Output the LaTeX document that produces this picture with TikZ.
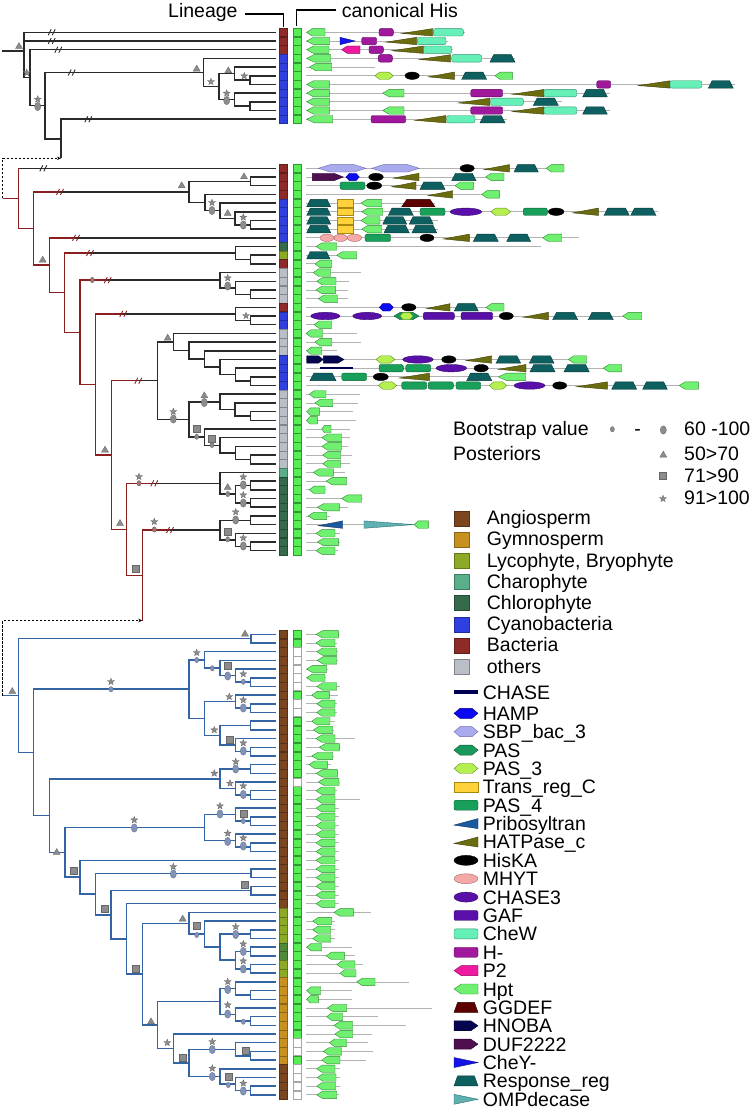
\documentclass[tikz,border=0pt]{standalone}
\usepackage{fontspec}
\setmainfont{Liberation Sans}
\usetikzlibrary{arrows.meta, calc}

\definecolor{treeK}{HTML}{2A2A2A}
\definecolor{treeR}{HTML}{8B1E1E}
\definecolor{treeB}{HTML}{3464A4}
\definecolor{cAng}{HTML}{7B4520}
\definecolor{cGym}{HTML}{C8901E}
\definecolor{cLyc}{HTML}{8DAA26}
\definecolor{cCha}{HTML}{5BAE8A}
\definecolor{cChl}{HTML}{356A4C}
\definecolor{cCya}{HTML}{3040E0}
\definecolor{cBac}{HTML}{8E2B28}
\definecolor{cOth}{HTML}{B9BEC7}
\definecolor{cMid}{HTML}{4E8A3A}
\definecolor{hisG}{HTML}{55EE55}
\definecolor{hisGd}{HTML}{2E9A2E}
\definecolor{mkG}{HTML}{8C8C8C}
\definecolor{mkGd}{HTML}{666666}
\definecolor{mkB}{HTML}{8393B5}
\definecolor{mkBd}{HTML}{5E6E92}
\definecolor{mkR}{HTML}{A07878}
\definecolor{mkRd}{HTML}{7A4A4A}
% domain colours
\definecolor{dHpt}{HTML}{70F070}\definecolor{dHptD}{HTML}{2E8B2E}
\definecolor{dHatp}{HTML}{6B6B10}\definecolor{dHatpD}{HTML}{3E3E06}
\definecolor{dChew}{HTML}{66F0B8}\definecolor{dChewD}{HTML}{2E9070}
\definecolor{dHm}{HTML}{A0189C}\definecolor{dHmD}{HTML}{5E0060}
\definecolor{dRr}{HTML}{0E6060}\definecolor{dRrD}{HTML}{063838}
\definecolor{dChey}{HTML}{1414E6}\definecolor{dCheyD}{HTML}{0A0A90}
\definecolor{dPtwo}{HTML}{F01AA0}\definecolor{dPtwoD}{HTML}{900060}
\definecolor{dPasT}{HTML}{B4F050}\definecolor{dPasTD}{HTML}{609020}
\definecolor{dSbp}{HTML}{AAAAEE}\definecolor{dSbpD}{HTML}{6A6AB0}
\definecolor{dDuf}{HTML}{4E0E50}\definecolor{dDufD}{HTML}{2A0030}
\definecolor{dHamp}{HTML}{0A0AF0}\definecolor{dHampD}{HTML}{00008A}
\definecolor{dPasF}{HTML}{18A05A}\definecolor{dPasFD}{HTML}{0C6034}
\definecolor{dTrc}{HTML}{FFD23C}\definecolor{dTrcD}{HTML}{A88810}
\definecolor{dGg}{HTML}{5C0000}\definecolor{dGgD}{HTML}{300000}
\definecolor{dMhyt}{HTML}{F4A8A8}\definecolor{dMhytD}{HTML}{A86868}
\definecolor{dChT}{HTML}{5A10A8}\definecolor{dChTD}{HTML}{30086A}
\definecolor{dHnoba}{HTML}{06064E}\definecolor{dHnobaD}{HTML}{000030}
\definecolor{dPas}{HTML}{18985A}\definecolor{dPasD}{HTML}{0C5A34}
\definecolor{dPrt}{HTML}{1C5AA0}\definecolor{dPrtD}{HTML}{0C3060}
\definecolor{dOmp}{HTML}{5FB0B0}\definecolor{dOmpD}{HTML}{2A7070}
\definecolor{dChase}{HTML}{000050}

% y of leaf row n
\pgfmathdeclarefunction{ry}{1}{\begingroup
  \pgfmathparse{ifthenelse(#1<12,32.3+8.69*(#1-1),ifthenelse(#1<57,168.3+8.69*(#1-12),634.3+8.69*(#1-57)))}%
  \pgfmathsmuggle\pgfmathresult\endgroup}

% clade: [style]{name}{x}{child1}{child2}
\newcommand\cl[5][kline]{%
  \path let \p1=(#4), \p2=(#5) in coordinate (#2) at ({(#3)*1pt},{0.5*\y1+0.5*\y2});
  \draw[#1] (#4) -| (#2) |- (#5);}
\newcommand\brk[3][kline]{\draw[#1,line width=0.9pt] let \p1=(#3) in ({(#2)*1pt},\y1) ++(-3.5,3) -- ++(3,-6) ++(1,6) -- ++(3,-6);}
\newcommand\ovl[3][kline]{\draw[#1] let \p1=(#3) in ({(#2)*1pt},\y1) -- (#3);}

% markers
\newcommand\mtri[2]{\filldraw[mk] ({#1-3.5},{#2+2.8}) -- (#1,{#2-3.2}) -- ({#1+3.5},{#2+2.8}) -- cycle;}
\newcommand\msq[2]{\filldraw[mk] ({#1-3.4},{#2-3.4}) rectangle ({#1+3.4},{#2+3.4});}
\newcommand\mstar[2]{\filldraw[mk] (#1,#2) +(-90:3.6) -- +(-54:1.5) -- +(-18:3.6) -- +(18:1.5) -- +(54:3.6) -- +(90:1.5) -- +(126:3.6) -- +(162:1.5) -- +(198:3.6) -- +(234:1.5) -- cycle;}
\newcommand\mell[3][mk]{\filldraw[#1] (#2,#3) ellipse [x radius=3.1, y radius=4.2];}
\newcommand\msell[3][mk]{\filldraw[#1] (#2,#3) ellipse [x radius=2.1, y radius=2.7];}

% domain shapes, on row \yy with half height \hh
\newcommand\drow[3]{\pgfmathsetmacro\yy{ry(#1)}\draw[gline] (#2,\yy) -- (#3,\yy);}
\newcommand\shPenL[3]{\filldraw[#1] (#2,\yy) -- ({#2+0.3*(#3-#2)},{\yy-\hh}) -- (#3,{\yy-\hh}) -- (#3,{\yy+\hh}) -- ({#2+0.3*(#3-#2)},{\yy+\hh}) -- cycle;}
\newcommand\shPenR[3]{\filldraw[#1] (#3,\yy) -- ({#3-0.3*(#3-#2)},{\yy-\hh}) -- (#2,{\yy-\hh}) -- (#2,{\yy+\hh}) -- ({#3-0.3*(#3-#2)},{\yy+\hh}) -- cycle;}
\newcommand\shHex[3]{\filldraw[#1] (#2,\yy) -- ({#2+0.25*(#3-#2)},{\yy-\hh}) -- ({#3-0.25*(#3-#2)},{\yy-\hh}) -- (#3,\yy) -- ({#3-0.25*(#3-#2)},{\yy+\hh}) -- ({#2+0.25*(#3-#2)},{\yy+\hh}) -- cycle;}
\newcommand\shTrap[3]{\filldraw[#1] (#2,{\yy+\hh}) -- ({#2+0.15*(#3-#2)},{\yy-\hh}) -- ({#3-0.15*(#3-#2)},{\yy-\hh}) -- (#3,{\yy+\hh}) -- cycle;}
\newcommand\shTriL[3]{\filldraw[#1] (#2,{\yy+0.3*\hh}) -- (#3,{\yy-\hh}) -- (#3,{\yy+\hh}) -- cycle;}
\newcommand\shTriR[3]{\filldraw[#1] (#3,\yy) -- (#2,{\yy-\hh}) -- (#2,{\yy+\hh}) -- cycle;}
\newcommand\shRnd[3]{\filldraw[#1,rounded corners=2pt] (#2,{\yy-\hh}) rectangle (#3,{\yy+\hh});}
\newcommand\shEll[3]{\filldraw[#1] ({(#2+#3)/2},\yy) ellipse [x radius={(#3-#2)/2}, y radius=\hh];}
\newcommand\shRect[3]{\filldraw[#1] (#2,{\yy-\hh}) rectangle (#3,{\yy+\hh});}

\newcommand\Hpt[2]{\shPenL{dm={dHpt}{dHptD}}{#1}{#2}}
\newcommand\HATP[2]{\shTriL{dm={dHatp}{dHatpD}}{#1}{#2}}
\newcommand\CheW[2]{\shRnd{dm={dChew}{dChewD}}{#1}{#2}}
\newcommand\Hm[2]{\shRnd{dm={dHm}{dHmD}}{#1}{#2}}
\newcommand\RR[2]{\shTrap{dm={dRr}{dRrD}}{#1}{#2}}
\newcommand\CheY[2]{\shTriR{dm={dChey}{dCheyD}}{#1}{#2}}
\newcommand\Ptwo[2]{\shPenL{dm={dPtwo}{dPtwoD}}{#1}{#2}}
\newcommand\PASiii[2]{\shHex{dm={dPasT}{dPasTD}}{#1}{#2}}
\newcommand\HisKA[2]{\shEll{dm={black}{black}}{#1}{#2}}
\newcommand\SBP[2]{\shHex{dm={dSbp}{dSbpD}}{#1}{#2}}
\newcommand\DUF[2]{\shPenR{dm={dDuf}{dDufD}}{#1}{#2}}
\newcommand\HAMP[2]{\shHex{dm={dHamp}{dHampD}}{#1}{#2}}
\newcommand\PASiv[2]{\shRnd{dm={dPasF}{dPasFD}}{#1}{#2}}
\newcommand\TRC[2]{\shRect{dm={dTrc}{dTrcD}}{#1}{#2}}
\newcommand\GGDEF[2]{\shTrap{dm={dGg}{dGgD}}{#1}{#2}}
\newcommand\MHYT[2]{\shEll{dm={dMhyt}{dMhytD}}{#1}{#2}}
\newcommand\CHiii[2]{\shEll{dm={dChT}{dChTD}}{#1}{#2}}
\newcommand\GAF[2]{\shRnd{dm={dChT}{dChTD}}{#1}{#2}}
\newcommand\CHASE[2]{\fill[dChase] (#1,{\yy-0.35*\hh}) rectangle (#2,{\yy+0.35*\hh});}
\newcommand\HNOBA[2]{\shPenR{dm={dHnoba}{dHnobaD}}{#1}{#2}}
\newcommand\PAS[2]{\shHex{dm={dPas}{dPasD}}{#1}{#2}}
\newcommand\PRT[2]{\shTriL{dm={dPrt}{dPrtD}}{#1}{#2}}
\newcommand\OMP[2]{\shTriR{dm={dOmp}{dOmpD}}{#1}{#2}}

\begin{document}
\begin{tikzpicture}[x=1pt, y=-1pt,
  kline/.style={draw=treeK, line width=1.5pt},
  rline/.style={draw=treeR, line width=1.5pt},
  bline/.style={draw=treeB, line width=1.5pt},
  dashln/.style={draw=black, line width=0.9pt, dash pattern=on 2.5pt off 1.5pt, -{Stealth[length=4pt,width=3.5pt]}},
  gline/.style={draw=gray!60, line width=0.8pt},
  hdr/.style={draw=black, line width=1.4pt},
  lin/.style={fill=#1, draw=#1!70!black, line width=0.3pt},
  hcol/.style={fill=hisG, draw=hisGd, line width=0.5pt},
  hnone/.style={fill=white, draw=gray!70, line width=0.5pt},
  mk/.style={fill=mkG, draw=mkGd, line width=0.3pt},
  mkb/.style={fill=mkB, draw=mkBd, line width=0.3pt},
  mkr/.style={fill=mkR, draw=mkRd, line width=0.3pt},
  dm/.style 2 args={fill=#1, draw=#2, line width=0.4pt},
  lgt/.style={font=\fontsize{19.5}{22}\selectfont, inner sep=0pt},
]
\useasboundingbox (0,0) rectangle (754,1109);

% headers
\node[lgt, anchor=base west] (hLin) at (168,17) {Lineage};
\node[lgt, anchor=base west] (hHis) at (341.7,17) {canonical His};
\draw[hdr] (245,14) -| (283.3,26.5);
\draw[hdr] (336,10) -| (296.7,25.5);

% leaf tips
\foreach \i in {1,...,110} \coordinate (r\i) at (276,{ry(\i)});

% ---- top clade
\cl{n1a}{250}{r6}{r7}
\cl{n1b}{234.3}{r5}{n1a}
\cl{n1c}{250}{r9}{r10}
\cl{n1d}{234.3}{r8}{n1c}
\cl{n1e}{219}{n1b}{n1d}
\cl{n1f}{203.3}{r4}{n1e}
\coordinate (d1) at (61,158.3);
\cl{n1g}{61}{r11}{d1}
\cl{n1h}{45}{n1f}{n1g}
\cl{n1i}{30}{r3}{n1h}
\coordinate (n1j) at (24,51);
\draw[kline] (r1) -| (n1j) |- (n1i);
\draw[kline] (r2) -- (r2 -| n1j);
\draw[kline] (1.7,51) -- (n1j);
\brk{51.7}{r1}\brk{51.7}{r2}\brk{58.3}{r3}\brk{71.7}{n1f}\brk{88.3}{r11}

% ---- middle clade
\cl{a1}{250.7}{r18}{r19}
\cl{a2}{235}{r17}{a1}
\cl{a3}{220}{r16}{a2}
\cl{a4}{205}{r15}{a3}
\cl{a5}{250.7}{r13}{r14}
\cl{a6}{189}{a5}{a4}
\cl{b1}{250.7}{r22}{r23}
\cl{b2}{235.7}{r21}{b1}
\cl{c1}{250.7}{r26}{r27}
\cl{c2}{235.7}{r25}{c1}
\cl{c3}{220}{r24}{c2}
\cl{dd1}{250.7}{r29}{r30}
\cl{dd2}{235.7}{r28}{dd1}
\cl{e1}{250.7}{r36}{r37}
\cl{e2}{235.7}{r35}{e1}
\cl{e3}{220}{r34}{e2}
\cl{e4}{204.3}{r33}{e3}
\cl{e5}{189}{r32}{e4}
\cl{e6}{173.3}{r31}{e5}
\cl{e7}{250.7}{r40}{r41}
\cl{e8}{235}{r39}{e7}
\cl{e9}{220}{r38}{e8}
\cl{e10}{250.7}{r45}{r46}
\cl{e11}{235.7}{r44}{e10}
\cl{e12}{220}{r43}{e11}
\cl{e13}{204.3}{r42}{e12}
\cl{e14}{189}{e9}{e13}
\cl{e15}{157.7}{e6}{e14}
\cl{f1}{250.7}{r48}{r49}
\cl{f2}{250.7}{r50}{r51}
\cl{f3}{235.7}{f1}{f2}
\cl{f4}{220}{r47}{f3}
\cl{g1}{250.7}{r52}{r53}
\cl{g2}{250.7}{r55}{r56}
\cl{g3}{235.7}{r54}{g2}
\cl{g4}{220}{g1}{g3}
\coordinate (d2) at (142.3,620.5);
\cl[rline]{R1}{142.3}{g4}{d2}
\cl[rline]{R2}{126.7}{f4}{R1}
\cl[rline]{R3}{111.7}{e15}{R2}
\cl[rline]{R4}{95.7}{dd2}{R3}
\cl[rline]{R5}{80}{c3}{R4}
\cl[rline]{R6}{64.3}{b2}{R5}
\cl[rline]{R7}{49.3}{r20}{R6}
\cl[rline]{R8}{33.3}{a6}{R7}
\cl[rline]{R9}{18.3}{r12}{R8}
\ovl{20}{r12}\ovl{60}{a6}\ovl{76}{r20}\ovl{90}{b2}\ovl{107.7}{c3}
\ovl{123.3}{dd2}\ovl{138.3}{e15}\ovl{154.3}{f4}\ovl{170}{g4}
\brk{43.3}{r12}
\foreach \bx/\bn in {60/a6, 76/r20, 90/b2, 107.7/c3, 123.3/dd2, 138.3/e15, 154.3/f4, 170/g4}
  {\brk[rline]{\bx}{\bn}}
\draw[rline] let \p1=(R9) in (2.7pt,\y1) -- (R9);
\draw[dashln] let \p1=(R9) in (2.7pt,\y1) |- (d1);

% ---- bottom clade
\cl[bline]{u1}{251}{r57}{r58}
\cl[bline]{h1}{250.7}{r62}{r63}
\cl[bline]{h2}{235.7}{r61}{h1}
\cl[bline]{h3}{220}{r60}{h2}
\cl[bline]{h4}{204.3}{r59}{h3}
\cl[bline]{h5}{250.7}{r65}{r66}
\cl[bline]{h6}{235.7}{r64}{h5}
\cl[bline]{h7}{250.7}{r67}{r68}
\cl[bline]{h8}{250.7}{r70}{r71}
\cl[bline]{h9}{235.7}{r69}{h8}
\cl[bline]{h10}{220}{h7}{h9}
\cl[bline]{h11}{204.3}{h6}{h10}
\cl[bline]{h12}{189}{h4}{h11}
\cl[bline]{h13}{250.7}{r72}{r73}
\cl[bline]{h14}{250.7}{r75}{r76}
\cl[bline]{h15}{235.7}{r74}{h14}
\cl[bline]{h16}{220}{h13}{h15}
\cl[bline]{h17}{250.7}{r78}{r79}
\cl[bline]{h18}{235.7}{r77}{h17}
\cl[bline]{h19}{250.7}{r81}{r82}
\cl[bline]{h20}{235.7}{r80}{h19}
\cl[bline]{h21}{204.3}{h18}{h20}
\cl[bline]{j1}{251}{r84}{r85}
\cl[bline]{j2}{251}{r86}{r87}
\cl[bline]{i1}{250.7}{r91}{r92}
\cl[bline]{i2}{250.7}{r93}{r94}
\cl[bline]{i3}{250.7}{r95}{r96}
\cl[bline]{i4}{235.7}{i2}{i3}
\cl[bline]{i5}{220}{i1}{i4}
\cl[bline]{i6}{204.3}{r90}{i5}
\cl[bline]{i7}{189}{r89}{i6}
\cl[bline]{i8}{250.7}{r98}{r99}
\cl[bline]{i9}{235.7}{r97}{i8}
\cl[bline]{i10}{250.7}{r101}{r102}
\cl[bline]{i11}{235.7}{r100}{i10}
\cl[bline]{i12}{220}{i9}{i11}
\cl[bline]{i13}{250.7}{r105}{r106}
\cl[bline]{i14}{235.7}{r104}{i13}
\cl[bline]{i15}{250.7}{r109}{r110}
\cl[bline]{i16}{235.7}{r108}{i15}
\cl[bline]{i17}{220}{r107}{i16}
\cl[bline]{i18}{189}{i14}{i17}
\cl[bline]{i19}{173.3}{r103}{i18}
\cl[bline]{k1}{157.7}{i12}{i19}
\cl[bline]{k2}{142.3}{i7}{k1}
\cl[bline]{k3}{126.7}{r88}{k2}
\cl[bline]{k4}{111}{j2}{k3}
\cl[bline]{k5}{95.7}{j1}{k4}
\cl[bline]{k6}{80}{r83}{k5}
\cl[bline]{k7}{65}{h21}{k6}
\cl[bline]{k8}{49.3}{h16}{k7}
\cl[bline]{k10}{33.3}{h12}{k8}
\cl[bline]{k11}{18.3}{u1}{k10}
\draw[bline] let \p1=(k11) in (2.7pt,\y1) -- (k11);
\draw[dashln] let \p1=(k11) in (2.7pt,\y1) |- (d2);

% ---- support markers
\foreach \x/\y in {19/45.7, 196.7/68.3, 228.3/70, 244/176, 181.7/185, 227.7/212.7, 42.7/259.3,
  105/449.3, 167.7/337.3, 204.3/395, 227.7/486.7, 120/522.7, 12.3/690.7, 245/633.3, 56.7/851.7,
  182.7/918.3, 151/1021, 663.3/454.3}{\mtri{\x}{\y}}
\foreach \x/\y in {26.7/72.7, 37.7/99.3, 211/81.7, 244.3/76, 226.7/93.3, 212/202.7, 243.3/217.3,
  227.7/278, 246/315.7, 173.3/411.7, 139/476.7, 243.3/477, 243.3/495, 154.3/521.7, 235.7/512,
  243.3/538, 111/681.7, 196.7/652.7, 243.3/674, 229.3/696.7, 243.3/700, 214.3/730, 243.3/743,
  235.7/761.7, 214.3/773.3, 230/783.3, 243.3/786, 134.3/820, 220/806, 227.7/833.3, 243.3/838,
  173.3/866.7, 235.7/926.7, 243.3/944, 243.3/961, 227.7/981.7, 227.7/1005, 167.3/1042.7,
  212.3/1041.7, 212.3/1068.3, 243.3/1083.3, 663/498.7}{\mstar{\x}{\y}}
\foreach \x/\y in {135.7/568.3, 196.7/429, 212/438.3, 227.7/532, 227.7/666, 230/739.3, 243.3/813.3,
  73.3/870.7, 244.3/885, 105/908.3, 196.7/926, 136/968.3, 182.7/1057.3, 245.7/1051,
  228.3/1076.7, 663/476}{\msq{\x}{\y}}
\foreach \x/\y in {37.7/106.5, 226.7/100.5, 212/210.5, 243.3/225, 227.7/286, 173.3/419,
  204.3/402.5, 243.3/485, 243.3/503, 235.7/520, 243.3/546, 663.3/430}{\mell{\x}{\y}}
\foreach \x/\y in {196.7/436.7, 212/445, 227.7/494, 227.7/539.3, 612.3/429.3}{\msell{\x}{\y}}
\foreach \x/\y in {92.3/280, 139/483.3, 154.3/529.5}{\msell[mkr]{\x}{\y}}
\foreach \x/\y in {243.3/708, 243.3/751, 235.7/769, 243.3/794.5, 134.3/828, 220/814, 227.7/841.5,
  243.3/846, 173.3/874, 235.7/934.5, 243.3/951.5, 243.3/969, 227.7/989.5, 227.7/1014,
  212.3/1049.5, 212.3/1076.5, 243.3/1091, 227.7/676}{\mell[mkb]{\x}{\y}}
\foreach \x/\y in {111/689.3, 196.7/660, 212.3/668.3, 243.3/681.7, 243.3/821, 196.7/935,
  243.3/1021.7, 228.3/1085}{\msell[mkb]{\x}{\y}}

% ---- lineage and canonical His columns
\foreach \a/\b/\c in {1/3/cBac, 4/11/cCya, 12/15/cBac, 16/20/cCya, 21/21/cChl, 22/22/cLyc,
  23/23/cBac, 24/27/cOth, 28/28/cBac, 29/30/cCya, 31/33/cOth, 34/37/cCya, 38/46/cOth,
  47/47/cCha, 48/56/cChl, 57/88/cAng, 89/92/cLyc, 93/94/cMid, 95/96/cLyc, 97/106/cGym,
  107/110/cAng}{
  \foreach \r in {\a,...,\b}{\pgfmathsetmacro\yy{ry(\r)}
    \filldraw[lin=\c] (279.3,{\yy-4.3}) rectangle (287.3,{\yy+4.3});}}
\foreach \r in {1,...,110}{\pgfmathsetmacro\yy{ry(\r)}
  \filldraw[hcol] (293.3,{\yy-4.1}) rectangle (301.3,{\yy+4.1});}
\foreach \r in {59,60,61,62,63,65,66,74,104,105,107,108,109,110}{\pgfmathsetmacro\yy{ry(\r)}
  \filldraw[hnone] (293.3,{\yy-4.1}) rectangle (301.3,{\yy+4.1});}

% ---- domain architectures
\def\hh{3.7}
\drow{1}{306}{465}\Hpt{306.7}{325}\Hm{379}{393.3}\HATP{401.7}{432.7}\CheW{433.3}{463.3}
\drow{2}{306}{448}\Hpt{306.7}{329.7}\CheY{340}{355}\Hm{361.7}{376.7}\HATP{386}{416.7}\CheW{417.3}{446}
\drow{3}{306}{453}\Hpt{306.7}{329}\Ptwo{341.7}{360}\Hm{369}{383.3}\HATP{391.7}{423.3}\CheW{423.3}{451.7}
\drow{4}{306}{515}\Hpt{306.7}{330.7}\Hm{378.3}{392.3}\HATP{419.3}{450.7}\CheW{451.7}{481.7}\RR{490}{515}
\drow{5}{306}{375}\Hpt{309.3}{331.7}
\drow{6}{306}{512}\PASiii{375}{393.3}\HisKA{405}{419.3}\HATP{428.3}{454.3}\RR{461.7}{486.7}\Hpt{495}{512.3}
\drow{7}{306}{735}\Hpt{306.7}{329.3}\Hm{596.7}{610.7}\HATP{638.3}{670}\CheW{670}{701.7}\RR{708.3}{733.3}
\drow{8}{306}{610}\Hpt{306.7}{329.3}\Hpt{382.7}{404}\Hm{470.7}{502.7}\HATP{512.3}{544}\CheW{544}{576.7}\RR{582.7}{607.3}
\drow{9}{306}{562}\Hpt{306.7}{329.3}\HATP{458.3}{490}\CheW{490.7}{523.3}\RR{533.3}{558.3}
\drow{10}{306}{610}\Hpt{306.7}{329.3}\Hpt{382.7}{404}\Hm{470.7}{502.7}\HATP{512.3}{544}\CheW{544}{576.7}\RR{582.7}{607.3}
\drow{11}{306}{507}\Hpt{306.7}{332.7}\Hm{371}{405.7}\HATP{415}{446}\CheW{446.7}{475}\RR{480}{505}

\drow{12}{306}{564}\SBP{318.3}{366}\SBP{371.7}{419.3}\HisKA{460}{474.3}\HATP{484}{509.3}\RR{514}{538.3}\Hpt{546}{564}
\drow{13}{306}{504}\DUF{312.3}{343.3}\HAMP{346}{359.3}\HisKA{368.7}{383.3}\HATP{393.3}{419}\RR{451.7}{476}\Hpt{485.7}{504}
\drow{14}{306}{473}\PASiv{340}{365}\HisKA{366.7}{381.7}\HATP{391.7}{416}\RR{420}{445}\Hpt{455}{473.3}
\drow{15}{306}{500}\HATP{428.3}{452.7}\Hpt{481.7}{499.3}
\drow{16}{306}{435}\RR{306.7}{330.7}\TRC{337.3}{353.3}\Hpt{361}{381.7}\GGDEF{401.7}{435}
\drow{17}{306}{658}\RR{306.7}{330.7}\TRC{337.3}{353.3}\Hpt{361.7}{382.7}\RR{388.3}{413.3}\PASiv{420}{445}\CHiii{450}{481.7}\PASiii{490.7}{510.7}\PASiv{523.3}{547.3}\HisKA{548.3}{564}\HATP{572.7}{598.3}\RR{604}{629.3}\RR{630.7}{656}
\drow{18}{306}{438}\RR{306.7}{330.7}\TRC{337.3}{353.3}\Hpt{361}{380}\RR{382.7}{406.7}\RR{409.3}{433.3}
\drow{19}{306}{438}\RR{306.7}{330.7}\TRC{337.3}{353.3}\Hpt{361.7}{381.7}\RR{384}{409.3}\RR{412}{436.7}
\drow{20}{306}{579.3}\MHYT{320}{334}\MHYT{334}{347.3}\MHYT{347.3}{361.7}\PASiv{365}{390.7}\HisKA{420}{434}\HATP{443.3}{469.3}\RR{473.3}{498.3}\RR{506.7}{530.7}\Hpt{542.7}{561.7}
\drow{22}{306}{357}\RR{306.7}{330}\Hpt{336.7}{356.7}
\drow{28}{306}{504}\HAMP{379.3}{393.3}\HisKA{401.7}{416}\HATP{426.7}{450}\RR{454.3}{478.3}\Hpt{486}{504}
\drow{29}{306}{642}\CHiii{310.7}{340}\CHiii{352.7}{381.7}\PAS{394}{419}\PASiii{400}{413}\GAF{423.3}{454.3}\GAF{461}{492.7}\HisKA{499.3}{513.3}\HATP{523.3}{548.3}\RR{552.7}{577.7}\RR{588.3}{613.3}\Hpt{622.7}{641.7}
\drow{34}{306}{587}\HNOBA{306.7}{323.3}\HNOBA{323.3}{344}\PASiii{376}{395}\CHiii{402.7}{433.3}\HisKA{441.7}{456}\HATP{466}{491.7}\RR{496}{520.7}\RR{529.3}{554}\Hpt{568.3}{586.7}
\drow{35}{306}{622}\CHASE{320}{353.3}\PASiv{379}{403.3}\PASiv{405.7}{430.7}\CHiii{436}{466.7}\HisKA{474}{488.3}\HATP{498.3}{526}\RR{530}{555}\RR{564}{589.3}\Hpt{603.3}{621.7}
\drow{36}{306}{526}\RR{310}{336}\PASiv{341.7}{366.7}\HisKA{373.3}{388.3}\HATP{399.3}{429.3}\RR{466.7}{491.7}\Hpt{498.3}{525.7}
\drow{37}{306}{699}\PASiii{378.3}{396.7}\PASiv{401.7}{426.7}\PASiv{428.3}{453.3}\PASiv{456}{480.7}\PASiii{489.3}{506.7}\CHiii{514}{545}\HisKA{552.7}{566.7}\HATP{576.7}{607.3}\RR{611.7}{636.7}\RR{642.7}{667.3}\Hpt{679.3}{698.3}
\drow{53}{306}{428}\PRT{318.3}{342.7}\OMP{364}{413.3}\Hpt{414}{428.3}

\foreach \r/\a/\b/\e in {21/316/336.7/540.7, 23/315/331.7/332, 24/313.3/330.7/361, 25/316.7/336/349.3,
  26/316/335.3/348, 27/318.3/337.7/348, 30/314/331.7/332, 31/306/322.7/356.7, 32/315/331.7/361,
  33/306.7/321.7/336.7, 38/309.3/326/360, 39/315/332.7/358.3, 40/306.7/319.3/353.3,
  41/306.7/317.3/355.7, 42/321.7/331/350, 43/321.7/341.7/350, 44/321.7/341.7/348.3,
  45/322.7/340.7/352.3, 46/322.7/340.7/350, 47/313.3/333.3/345, 48/326/346.7/347.3,
  49/309.3/325/326, 50/341.7/361.7/363.3, 51/317.3/339.3/348.3, 52/308.3/326.7/330,
  54/316/335/340, 55/317.3/338.3/340, 56/316/335/338.3,
  57/316/338.3/339, 58/316/335/336.7, 59/316.7/336.7/338, 60/317.3/336.7/338,
  61/306.7/326.7/328.3, 62/306.7/325/326, 63/316.7/336.7/340, 64/311.7/329.3/338.3,
  65/316.7/335/337, 66/316.7/335/337, 67/311.7/330/335, 68/313.3/332.7/334, 69/316/335/355,
  70/319.3/339.3/340, 71/311.7/332.7/334, 72/309/327.3/330.7, 73/316/337.3/338,
  74/318.3/339/340, 75/316/335/337, 76/316/335/360, 77/316/335/339.3, 78/316/335/339.3,
  79/316/335/339.3, 80/316/335/339.3, 81/316/335/339.3, 82/316/335/339.3, 83/316/335/339.3,
  84/316/335/339.3, 85/316/335/339.3, 86/316/335/339.3, 87/316/335/339.3, 88/316/335/339.3,
  89/334/353.3/370.7, 90/312.7/331.7/335, 91/312.7/330.7/335, 92/312.7/330.7/335,
  93/306.7/321.7/351.7, 94/326/344.3/355, 95/336.7/355/362.7, 96/340/356/356,
  97/356.7/375/409.3, 98/306.7/320.7/351.7, 99/306.7/318.3/351.7, 100/327.3/346.7/431.7,
  101/326.7/342.7/378.3, 102/334/352.7/406, 103/335/352.7/371.7, 104/329.3/346.7/368.3,
  105/323.3/341.7/372.7, 106/321.7/340/366, 107/316.7/335/340, 108/317.3/336/340,
  109/316.7/335.7/340, 110/316.7/336.7/339.3}{\drow{\r}{306}{\e}\Hpt{\a}{\b}}

% ---- legends
\node[lgt, anchor=base west] (bsv) at (453,435) {Bootstrap value};
\node[lgt, anchor=base] (bsd) at (637.7,435) {-};
\node[lgt, anchor=base west] (bs1) at (684,435) {60 -100};
\node[lgt, anchor=base west] (pst) at (453,460) {Posteriors};
\node[lgt, anchor=base west] (ps1) at (684,460) {50>70};
\node[lgt, anchor=base west] (ps2) at (684,482.7) {71>90};
\node[lgt, anchor=base west] (ps3) at (684,504) {91>100};

\foreach \k/\c/\txt in {0/cAng/Angiosperm, 1/cGym/Gymnosperm, 2/cLyc/{Lycophyte, Bryophyte},
  3/cCha/Charophyte, 4/cChl/Chlorophyte, 5/cCya/Cyanobacteria, 6/cBac/Bacteria, 7/cOth/others}{
  \pgfmathsetmacro\yy{518.2+21.2*\k}
  \filldraw[lin=\c] (454,{\yy-7.5}) rectangle (469,{\yy+7.5});
  \node[lgt, anchor=base west] (ll\k) at (486.7,{\yy+6.5}) {\txt};}

\def\hh{5}
\def\yy{692}\CHASE{454}{478}
\node[lgt, anchor=base west] (dlc) at (482.7,699) {CHASE};
\foreach \k/\mac/\txt in {0/\HAMP/HAMP, 1/\SBP/SBP\_bac\_3, 2/\PAS/PAS, 3/\PASiii/PAS\_3,
  4/\TRC/Trans\_reg\_C, 5/\PASiv/PAS\_4, 6/\PRT/Pribosyltran, 7/\HATP/HATPase\_c,
  8/\HisKA/HisKA, 9/\MHYT/MHYT, 10/\CHiii/CHASE3, 11/\GAF/GAF, 12/\CheW/CheW, 13/\Hm/H-,
  14/\Ptwo/P2, 15/\Hpt/Hpt, 16/\GGDEF/GGDEF, 17/\HNOBA/HNOBA, 18/\DUF/DUF2222,
  19/\CheY/CheY-, 20/\RR/Response\_reg, 21/\OMP/OMPdecase}{
  \pgfmathsetmacro\yy{713.3+18.38*\k}
  \mac{454}{478}
  \node[lgt, anchor=base west] (dl\k) at (482.7,{\yy+7}) {\txt};}
\end{tikzpicture}
\end{document}
